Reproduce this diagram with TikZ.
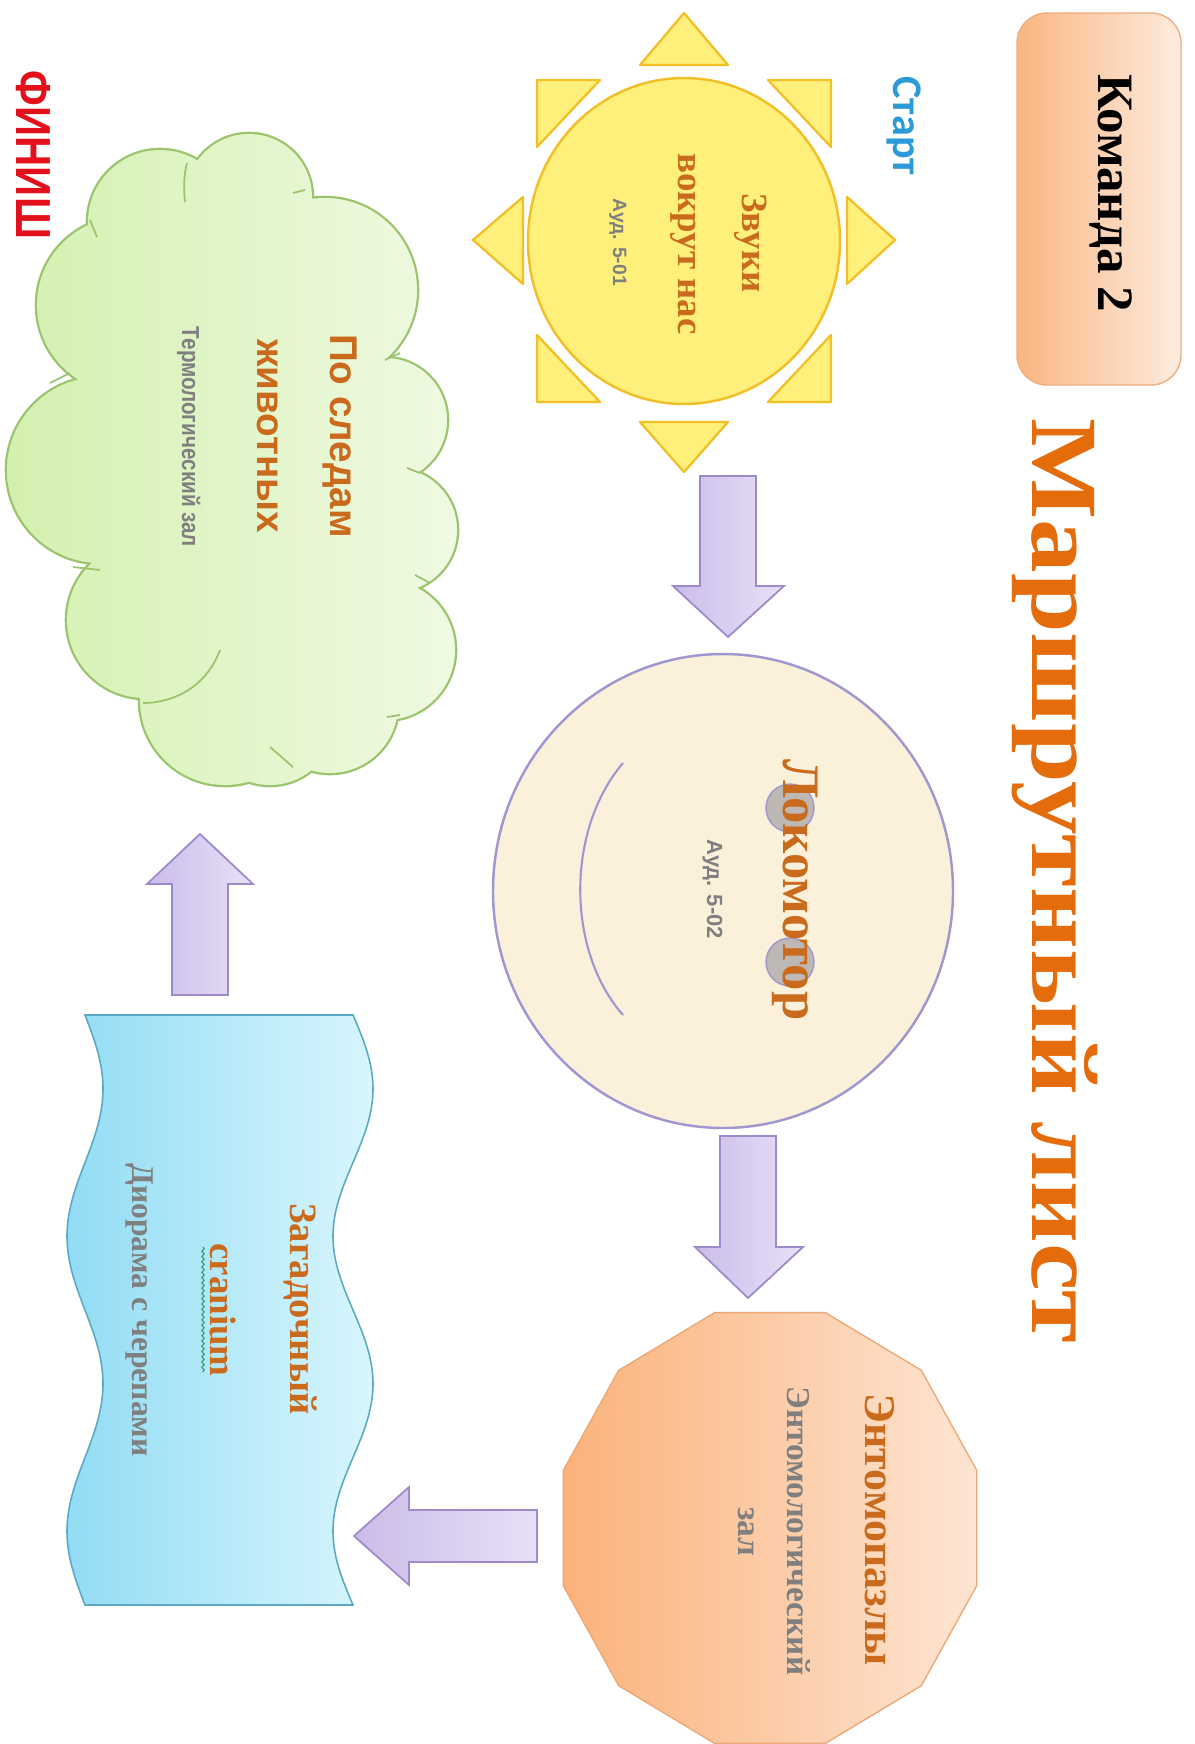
\documentclass[tikz,border=0pt]{standalone}
\usepackage{fontspec}
\setmainfont{Liberation Serif}
\newfontfamily\lsans{Liberation Sans}
\newfontfamily\carl{Carlito}
\usetikzlibrary{decorations.pathmorphing}
\definecolor{ttlor}{HTML}{E46C0A}
\definecolor{txor}{HTML}{C96A1C}
\definecolor{txgr}{HTML}{7F7F7F}
\definecolor{startbl}{HTML}{2A9BD8}
\definecolor{finred}{HTML}{E3101B}
\definecolor{sunfill}{HTML}{FFF07C}
\definecolor{sunline}{HTML}{F2C026}
\definecolor{arrA}{HTML}{CBBCE9}
\definecolor{arrB}{HTML}{E8E0F7}
\definecolor{arrline}{HTML}{9C8ACB}
\definecolor{locofill}{HTML}{FBF0DA}
\definecolor{locoline}{HTML}{A097D0}
\definecolor{locogray}{HTML}{BEB8B4}
\definecolor{entoA}{HTML}{FBB27A}
\definecolor{entoB}{HTML}{FDE5D3}
\definecolor{entoline}{HTML}{EDA978}
\definecolor{waveA}{HTML}{92DCF4}
\definecolor{waveB}{HTML}{D8F6FD}
\definecolor{waveline}{HTML}{5DA9C4}
\definecolor{cloudA}{HTML}{D3F0AE}
\definecolor{cloudB}{HTML}{F0FAE4}
\definecolor{cloudline}{HTML}{9CC46E}
\definecolor{kmdA}{HTML}{FAB581}
\definecolor{kmdB}{HTML}{FDECDF}
\definecolor{kmdline}{HTML}{EFAE80}
\definecolor{squig}{HTML}{2E9E6A}
\newcommand{\myfs}[1]{\fontsize{#1}{#1}\selectfont}
\begin{document}
\begin{tikzpicture}[x=0.02cm, y=-0.02cm,
  rt/.style={rotate=-90, anchor=base, inner sep=0pt},
  sunray/.style={fill=sunfill, draw=sunline, line width=1.3pt, line join=round},
  blockarrow/.style={left color=arrA, right color=arrB, draw=arrline, line width=1pt, line join=miter},
  orangetxt/.style={text=txor, font=\bfseries},
  graytxt/.style={text=txgr}]
\useasboundingbox (0,0) rectangle (1194,1744);
\clip (0,0) rectangle (1194,1744);
\fill[white] (0,0) rectangle (1194,1744);

% Team box
\shadedraw[left color=kmdA, right color=kmdB, draw=kmdline, line width=0.8pt, rounded corners=17pt] (1017,13) rectangle (1181,385);
\node[rt, font=\myfs{29pt}\bfseries, text=black] (team) at (1098,193) {Команда 2};

% Title
\node[rt, font=\myfs{54pt}\bfseries, text=ttlor] (title) at (1032,881) {\scalebox{1.13}[1]{Маршрутный лист}};

% Start / Finish labels
\node[rt, font=\carl\myfs{24pt}\bfseries, text=startbl] (start) at (893,126) {Старт};
\node[rt, font=\lsans\myfs{28pt}\bfseries, text=finred] (finish) at (16,155) {\scalebox{0.85}[1]{ФИНИШ}};

% Sun
\draw[sunray] (640,65) -- (728,65) -- (684,13) -- cycle;
\draw[sunray] (640,422) -- (728,422) -- (684,472) -- cycle;
\draw[sunray] (523,197) -- (523,284) -- (473,240) -- cycle;
\draw[sunray] (847,197) -- (847,284) -- (895,240) -- cycle;
\draw[sunray] (537,80) -- (600,80) -- (537,147) -- cycle;
\draw[sunray] (831,80) -- (768,80) -- (831,147) -- cycle;
\draw[sunray] (537,335) -- (537,402) -- (600,402) -- cycle;
\draw[sunray] (831,335) -- (831,402) -- (768,402) -- cycle;
\draw[fill=sunfill, draw=sunline, line width=1.4pt] (684,241) ellipse [x radius=156, y radius=163];
\node[rt, orangetxt, font=\myfs{21pt}\bfseries] (sun1) at (742,243) {Звуки};
\node[rt, orangetxt, font=\myfs{21pt}\bfseries] (sun2) at (678,244) {вокрут нас};
\node[rt, graytxt, font=\lsans\myfs{11pt}\bfseries] (sun3) at (613,242) {Ауд. 5-01};

% Arrow 1
\shadedraw[blockarrow] (700,476) -- (756,476) -- (756,586) -- (784,586) -- (728,637) -- (673,586) -- (700,586) -- cycle;

% Locomotor
\draw[fill=locofill, draw=locoline, line width=1.4pt] (723,891) ellipse [x radius=230, y radius=237];
\draw[locoline, line width=1.2pt] (623,763) .. controls (566,830) and (566,950) .. (623,1015);
\draw[fill=locogray, draw=locoline, line width=0.8pt] (790,808) circle [radius=24];
\draw[fill=locogray, draw=locoline, line width=0.8pt] (790,962) circle [radius=24];
\node[rt, orangetxt, font=\myfs{30pt}\bfseries] (loco1) at (783,890) {Локомотор};
\node[rt, graytxt, font=\lsans\myfs{12.5pt}\bfseries] (loco2) at (707,889) {Ауд. 5-02};

% Arrow 2
\shadedraw[blockarrow] (720,1136) -- (776,1136) -- (776,1247) -- (803,1247) -- (748,1298) -- (695,1247) -- (720,1247) -- cycle;

% Entomo dodecagon
\shadedraw[left color=entoA, right color=entoB, draw=entoline, line width=0.8pt]
 (976.7,1470.3) -- (921.3,1370.3) -- (825.4,1312.6) -- (714.6,1312.6) -- (618.7,1370.3) -- (563.3,1470.3)
 -- (563.3,1585.7) -- (618.7,1685.7) -- (714.6,1743.4) -- (825.4,1743.4) -- (921.3,1685.7) -- (976.7,1585.7) -- cycle;
\node[rt, orangetxt, font=\myfs{25pt}\bfseries] (ento1) at (865,1530) {Энтомопазлы};
\node[rt, graytxt, font=\myfs{19pt}\bfseries] (ento2) at (787,1531) {Энтомологический};
\node[rt, graytxt, font=\myfs{19pt}\bfseries] (ento3) at (738,1532) {зал};

% Arrow 3
\shadedraw[blockarrow] (537,1510) -- (537,1562) -- (409,1562) -- (409,1585) -- (354,1536) -- (409,1487) -- (409,1510) -- cycle;

% Wave (double wave)
\shadedraw[left color=waveA, right color=waveB, draw=waveline, line width=0.9pt]
 (85,1015) -- (353,1015)
 -- plot[domain=0:590, samples=90, smooth] ({353+20*sin(1.220339*\x)}, {1015+\x})
 -- (85,1605)
 -- plot[domain=0:590, samples=90, smooth] ({85+18*sin(1.220339*(590-\x))}, {1605-\x})
 -- cycle;
\node[rt, orangetxt, font=\myfs{22pt}\bfseries] (wave1) at (290,1309) {Загадочный};
\node[rt, orangetxt, font=\myfs{21pt}\bfseries] (wave2) at (210,1310) {cranium};
\draw[squig, line width=0.6pt, decorate, decoration={snake, amplitude=0.7pt, segment length=3pt}] (203,1247) -- (203,1372);
\node[rt, graytxt, font=\myfs{18pt}\bfseries] (wave3) at (132,1310) {Диорама с черепами};

% Arrow 4
\shadedraw[blockarrow] (172,995) -- (228,995) -- (228,884) -- (253,884) -- (200,834) -- (147,884) -- (172,884) -- cycle;

% Cloud
\draw[cloudline, line width=2.6pt]
 (160,222) circle [radius=72] (249,197) circle [radius=63] (325,290) circle [radius=92]
 (385,420) circle [radius=62] (395,530) circle [radius=62] (385,650) circle [radius=70]
 (330,705) circle [radius=68] (225,700) circle [radius=85] (270,720) circle [radius=65]
 (145,620) circle [radius=78] (100,470) circle [radius=93] (125,305) circle [radius=88];
\begin{scope}
\clip (160,222) circle [radius=72] (249,197) circle [radius=63] (325,290) circle [radius=92]
 (385,420) circle [radius=62] (395,530) circle [radius=62] (385,650) circle [radius=70]
 (330,705) circle [radius=68] (225,700) circle [radius=85] (270,720) circle [radius=65]
 (145,620) circle [radius=78] (100,470) circle [radius=93] (125,305) circle [radius=88]
 (235,465) ellipse [x radius=155, y radius=255];
\shade[left color=cloudA, right color=cloudB] (0,120) rectangle (470,800);
\end{scope}
\begin{scope}[cloudline, line width=1pt]
\draw (187,163) .. controls (183,178) and (184,192) .. (185,202);
\draw (90,220) -- (97,237);
\draw (50,383) -- (70,373);
\draw (293,193) -- (305,190);
\draw (385,360) -- (400,353);
\draw (407,468) -- (420,473);
\draw (415,575) -- (430,583);
\draw (387,717) -- (400,715);
\draw (270,747) -- (293,767);
\draw (220,650) .. controls (205,690) and (170,703) .. (143,703);
\draw (73,567) -- (100,570);
\end{scope}
\node[rt, orangetxt, font=\lsans\myfs{22pt}\bfseries] (cloud1) at (330,436) {По следам};
\node[rt, orangetxt, font=\lsans\myfs{22pt}\bfseries] (cloud2) at (257,436) {животных};
\node[rt, graytxt, font=\lsans\myfs{14pt}\bfseries] (cloud3) at (182,437) {\scalebox{0.84}[1]{Термологический зал}};
\end{tikzpicture}
\end{document}
